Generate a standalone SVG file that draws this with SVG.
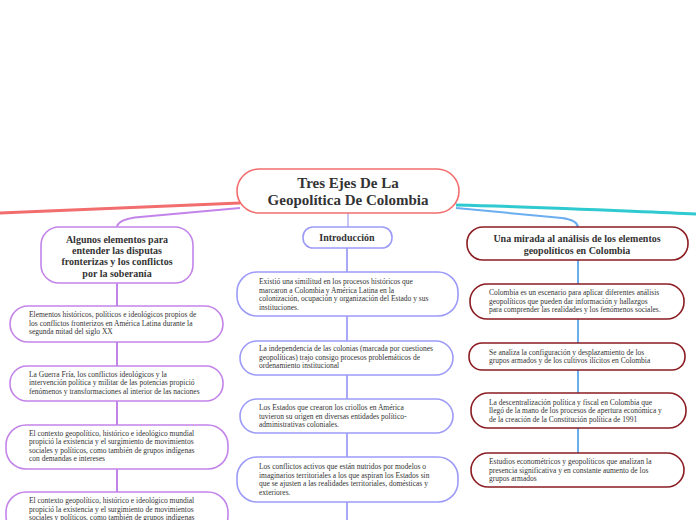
<svg xmlns="http://www.w3.org/2000/svg" width="696" height="520" viewBox="0 0 696 520">
<style>
text{font-family:"Liberation Serif","Times New Roman",serif;fill:#333}
.t{font-size:15px;font-weight:bold}
.h{font-size:10px;font-weight:bold}
.s{font-size:7.5px}
.n{fill:#fff;stroke-width:1.6}
.pu{stroke:#c384ea}
.lv{stroke:#9d9bf8}
.dr{stroke:#8b1c22}
.c{fill:none}
</style>
<rect width="696" height="520" fill="#fff"/>
<g id="connectors" class="c">
<path d="M240 203 C160 206 80 210 0 213" stroke="#f26d6d" stroke-width="3"/>
<path d="M456 205 C540 207 620 211 696 214" stroke="#2fc9d0" stroke-width="3"/>
<path d="M240 208 L140 217 Q118 219 117 227" stroke="#c384ea" stroke-width="2"/>
<path d="M456 208 L562 218 Q577 220 578 227" stroke="#6aaef0" stroke-width="2"/>
<path d="M348 213 V227" stroke="#b2b3f4" stroke-width="1.5"/>
<path d="M347 248 V520" stroke="#a9a8f6" stroke-width="2"/>
<path d="M117 283 V520" stroke="#c384ea" stroke-width="2"/>
<path d="M578 260 V453" stroke="#6aaef0" stroke-width="2"/>
</g>
<g id="central">
<rect class="n" x="237" y="169" width="222" height="44" rx="22" stroke="#f26d6d" stroke-width="2"/>
<text class="t" x="348" y="188" text-anchor="middle">Tres Ejes De La</text>
<text class="t" x="348" y="205" text-anchor="middle">Geopolítica De Colombia</text>
</g>
<g id="algunos">
<rect class="n pu" x="41" y="227" width="152" height="56" rx="18" stroke-width="2"/>
<text class="h" text-anchor="middle" x="117" y="243">Algunos elementos para</text>
<text class="h" text-anchor="middle" x="117" y="254">entender las disputas</text>
<text class="h" text-anchor="middle" x="117" y="265">fronterizas y los conflictos</text>
<text class="h" text-anchor="middle" x="117" y="277">por la soberanía</text>
</g>
<g id="introduccion">
<rect class="n lv" x="303" y="227" width="89" height="21" rx="10" stroke-width="2"/>
<text class="h" text-anchor="middle" x="347" y="241">Introducción</text>
</g>
<g id="mirada">
<rect class="n dr" x="467" y="227" width="221" height="33" rx="16" stroke-width="2"/>
<text class="h" text-anchor="middle" x="577" y="242">Una mirada al análisis de los elementos</text>
<text class="h" text-anchor="middle" x="577" y="254">geopolíticos en Colombia</text>
</g>
<g id="l1">
<rect class="n pu" x="10" y="306" width="213" height="36" rx="18"/>
<text class="s" x="29" y="317">Elementos históricos, políticos e ideológicos propios de</text>
<text class="s" x="29" y="325.5">los conflictos fronterizos en América Latina durante la</text>
<text class="s" x="29" y="334">segunda mitad del siglo XX</text>
</g>
<g id="l2">
<rect class="n pu" x="10" y="366" width="213" height="35" rx="17"/>
<text class="s" x="29" y="376.5">La Guerra Fría, los conflictos ideológicos y la</text>
<text class="s" x="29" y="385">intervención política y militar de las potencias propició</text>
<text class="s" x="29" y="393.5">fenómenos y transformaciones al interior de las naciones</text>
</g>
<g id="l3">
<rect class="n pu" x="6" y="425" width="222" height="44" rx="20"/>
<text class="s" x="29" y="435.5">El contexto geopolítico, histórico e ideológico mundial</text>
<text class="s" x="29" y="444">propició la existencia y el surgimiento de movimientos</text>
<text class="s" x="29" y="452.5">sociales y políticos, como también de grupos indígenas</text>
<text class="s" x="29" y="461">con demandas e intereses</text>
</g>
<g id="l4">
<rect class="n pu" x="6" y="492" width="222" height="44" rx="20"/>
<text class="s" x="29" y="503">El contexto geopolítico, histórico e ideológico mundial</text>
<text class="s" x="29" y="511.5">propició la existencia y el surgimiento de movimientos</text>
<text class="s" x="29" y="520">sociales y políticos, como también de grupos indígenas</text>
</g>
<g id="i1">
<rect class="n lv" x="237" y="272" width="221" height="44" rx="20"/>
<text class="s" x="259" y="284">Existió una similitud en los procesos históricos que</text>
<text class="s" x="259" y="292.5">marcaron a Colombia y América Latina en la</text>
<text class="s" x="259" y="301">colonización, ocupación y organización del Estado y sus</text>
<text class="s" x="259" y="309.5">instituciones.</text>
</g>
<g id="i2">
<rect class="n lv" x="240" y="341" width="213" height="34" rx="17"/>
<text class="s" x="259" y="351">La independencia de las colonias (marcada por cuestiones</text>
<text class="s" x="259" y="359.5">geopolíticas) trajo consigo procesos problemáticos de</text>
<text class="s" x="259" y="368">ordenamiento institucional</text>
</g>
<g id="i3">
<rect class="n lv" x="240" y="399" width="213" height="34" rx="17"/>
<text class="s" x="259" y="410">Los Estados que crearon los criollos en América</text>
<text class="s" x="259" y="418.5">tuvieron su origen en diversas entidades político-</text>
<text class="s" x="259" y="427">administrativas coloniales.</text>
</g>
<g id="i4">
<rect class="n lv" x="237" y="457" width="221" height="45" rx="20"/>
<text class="s" x="259" y="469">Los conflictos activos que están nutridos por modelos o</text>
<text class="s" x="259" y="477.5">imaginarios territoriales a los que aspiran los Estados sin</text>
<text class="s" x="259" y="486">que se ajusten a las realidades territoriales, domésticas y</text>
<text class="s" x="259" y="494.5">exteriores.</text>
</g>
<g id="r1">
<rect class="n dr" x="470" y="284" width="214" height="35" rx="17"/>
<text class="s" x="489" y="295">Colombia es un escenario para aplicar diferentes análisis</text>
<text class="s" x="489" y="303.5">geopolíticos que pueden dar información y hallazgos</text>
<text class="s" x="489" y="312">para comprender las realidades y los fenómenos sociales.</text>
</g>
<g id="r2">
<rect class="n dr" x="469" y="343" width="216" height="27" rx="13"/>
<text class="s" x="489" y="354.5">Se analiza la configuración y desplazamiento de los</text>
<text class="s" x="489" y="363">grupos armados y de los cultivos ilícitos en Colombia</text>
</g>
<g id="r3">
<rect class="n dr" x="471" y="393" width="215" height="35" rx="17"/>
<text class="s" x="489" y="404.5">La descentralización política y fiscal en Colombia que</text>
<text class="s" x="489" y="413">llegó de la mano de los procesos de apertura económica y</text>
<text class="s" x="489" y="421.5">de la creación de la Constitución política de 1991</text>
</g>
<g id="r4">
<rect class="n dr" x="471" y="453" width="213" height="34" rx="17"/>
<text class="s" x="489" y="464">Estudios econométricos y geopolíticos que analizan la</text>
<text class="s" x="489" y="472.5">presencia significativa y en constante aumento de los</text>
<text class="s" x="489" y="481">grupos armados</text>
</g>
</svg>
